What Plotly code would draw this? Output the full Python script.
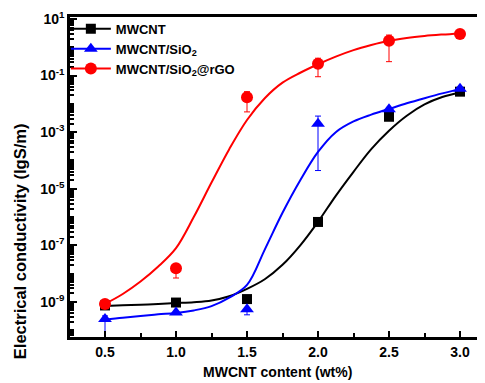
import plotly.graph_objects as go

# ---- data ----
x_content = [0.5, 1.0, 1.5, 2.0, 2.5, 3.0]

mwcnt = [7.5e-10, 9.5e-10, 1.26e-9, 6.7e-7, 3.5e-3, 2.7e-2]
mwcnt_hi = [7.5e-10, 9.5e-10, 1.26e-9, 6.7e-7, 3.5e-3, 2.7e-2]
mwcnt_lo = [7.5e-10, 9.5e-10, 1.26e-9, 6.7e-7, 2.6e-3, 2.7e-2]

sio2 = [2.5e-10, 4.2e-10, 5.5e-10, 2.0e-3, 6.5e-3, 3.4e-2]
sio2_hi = [3.2e-10, 4.2e-10, 5.5e-10, 3.7e-3, 6.5e-3, 3.4e-2]
sio2_lo = [3.0e-11, 4.2e-10, 3.5e-10, 4.4e-5, 6.5e-3, 3.4e-2]

rgo = [8.5e-10, 1.55e-8, 1.7e-2, 0.26, 1.7, 2.95]
rgo_hi = [8.5e-10, 1.55e-8, 2.7e-2, 0.41, 2.7, 2.95]
rgo_lo = [8.5e-10, 7.0e-9, 5.2e-3, 0.091, 0.31, 2.95]

# fitted curves (log10 of conductivity)
curve_x = [0.5, 0.625, 0.75, 0.875, 1.0, 1.125, 1.25, 1.375, 1.5, 1.625, 1.75, 1.875,
           2.0, 2.125, 2.25, 2.375, 2.5, 2.625, 2.75, 2.875, 3.0]
mwcnt_curve_log = [-9.14, -9.12, -9.10, -9.07, -9.04, -9.01, -8.95, -8.80, -8.54, -8.20, -7.69, -7.00,
                   -6.17, -5.25, -4.40, -3.60, -2.95, -2.42, -2.02, -1.76, -1.60]
sio2_curve_log = [-9.63, -9.56, -9.50, -9.44, -9.39, -9.30, -9.15, -8.85, -8.40, -7.15, -5.85, -4.70,
                  -3.70, -3.00, -2.62, -2.38, -2.18, -1.98, -1.80, -1.63, -1.48]
rgo_curve_log = [-9.07, -8.72, -8.28, -7.75, -7.10, -6.00, -4.78, -3.60, -2.57, -1.80, -1.25, -0.90,
                 -0.60, -0.33, -0.10, 0.08, 0.23, 0.33, 0.40, 0.45, 0.49]

y_tickvals = [1e-9, 1e-7, 1e-5, 1e-3, 1e-1, 1e1]
y_ticktext = ["10<sup>-9</sup>", "10<sup>-7</sup>", "10<sup>-5</sup>", "10<sup>-3</sup>",
              "10<sup>-1</sup>", "10<sup>1</sup>"]
y_minor_ticks = [m * 10.0 ** e for e in range(-11, 2) for m in range(1, 10)
                 if not (m == 1 and e % 2 == 1)]
x_tickvals = [0.5, 1.0, 1.5, 2.0, 2.5, 3.0]
x_ticktext = ["0.5", "1.0", "1.5", "2.0", "2.5", "3.0"]
x_minor_ticks = [0.25, 0.75, 1.25, 1.75, 2.25, 2.75]

series = [
    ("MWCNT", "#000000", "square", 10, mwcnt, mwcnt_hi, mwcnt_lo, mwcnt_curve_log),
    ("MWCNT/SiO<sub>2</sub>", "#0000ff", "triangle-up", 12, sio2, sio2_hi, sio2_lo, sio2_curve_log),
    ("MWCNT/SiO<sub>2</sub>@rGO", "#ff0000", "circle", 12, rgo, rgo_hi, rgo_lo, rgo_curve_log),
]

FONT = "Liberation Sans, Arial, sans-serif"
fig = go.Figure()

for name, color, sym, size, vals, hi, lo, clog in series:
    fig.add_trace(go.Scatter(
        x=curve_x, y=[10.0 ** v for v in clog], mode="lines",
        line=dict(color=color, width=2, shape="spline", smoothing=1.0),
        showlegend=False, hoverinfo="skip"))
for name, color, sym, size, vals, hi, lo, clog in series:
    fig.add_trace(go.Scatter(
        x=x_content, y=vals, mode="markers",
        marker=dict(symbol=sym, size=size, color=color),
        error_y=dict(type="data", symmetric=False,
                     array=[h - v for h, v in zip(hi, vals)],
                     arrayminus=[v - l for v, l in zip(vals, lo)],
                     color=color, thickness=1, width=3),
        showlegend=False))
for name, color, sym, size, vals, hi, lo, clog in series:
    fig.add_trace(go.Scatter(
        x=[None], y=[None], mode="lines+markers", name=name,
        marker=dict(symbol=sym, size=size, color=color),
        line=dict(color=color, width=2)))

# the page body has an 8px margin, so the figure is made 8px smaller and shifted
fig.update_layout(
    width=477, height=375,
    margin=dict(l=62, r=0, t=9, b=46),
    paper_bgcolor="white", plot_bgcolor="white",
    font=dict(family=FONT, size=13, color="black", weight="bold"),
    showlegend=True,
    legend=dict(x=-0.01, y=1.01, xanchor="left", yanchor="top",
                bgcolor="rgba(0,0,0,0)", font=dict(size=13, family=FONT, weight="bold"),
                itemwidth=40, tracegroupgap=0),
    xaxis=dict(range=[0.2535, 3.176], showline=True, linecolor="black", linewidth=2.5,
               mirror=True, ticks="inside", ticklen=6, tickwidth=2, tickcolor="black",
               tickmode="array", tickvals=x_tickvals, ticktext=x_ticktext,
               minor=dict(ticks="inside", ticklen=4, tickwidth=1.5, tickcolor="black",
                          tickmode="array", tickvals=x_minor_ticks),
               showgrid=False, zeroline=False,
               tickfont=dict(size=14, family=FONT, weight="bold")),
    yaxis=dict(type="log", range=[-10.24, 1.07], showline=True, linecolor="black", linewidth=2.5,
               mirror=False, ticks="inside", ticklen=7, tickwidth=2, tickcolor="black",
               tickmode="array", tickvals=y_tickvals, ticktext=y_ticktext,
               minor=dict(ticks="inside", ticklen=4, tickwidth=1.5, tickcolor="black",
                          tickmode="array", tickvals=y_minor_ticks),
               showgrid=False, zeroline=False,
               tickfont=dict(size=14, family=FONT, weight="bold")),
)

fig.add_annotation(text="MWCNT content (wt%)", xref="paper", yref="paper",
                   x=0.5, y=-0.11, xanchor="center", yanchor="middle", showarrow=False,
                   font=dict(size=14, family=FONT, weight="bold"))
fig.add_annotation(text="Electrical conductivity (lgS/m)", xref="paper", yref="paper",
                   x=-0.12, y=0.30, xanchor="center", yanchor="middle", textangle=-90,
                   showarrow=False, font=dict(size=16.5, family=FONT, weight="bold"))

fig.write_html("out.html")
